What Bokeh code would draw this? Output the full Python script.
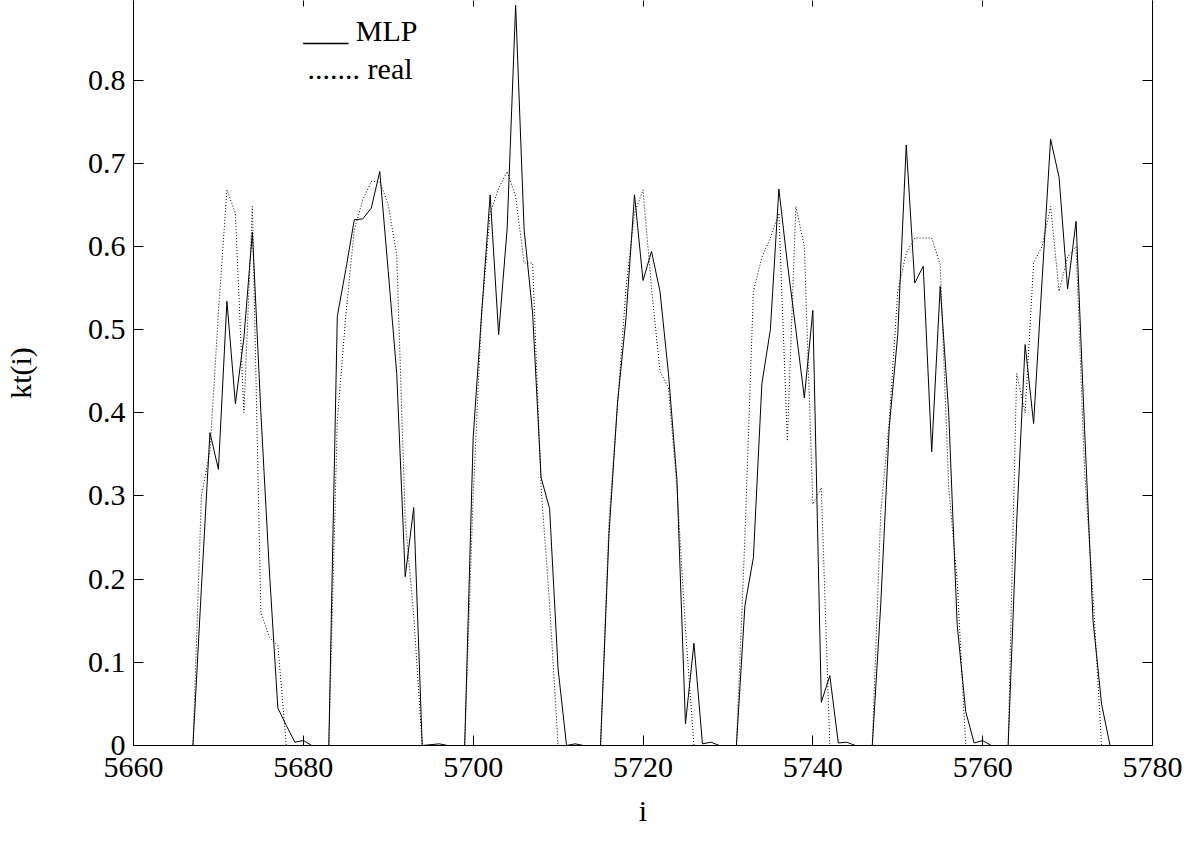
from bokeh.plotting import figure
from bokeh.models import Range1d, LinearAxis, FixedTicker, Label
from bokeh.embed import file_html
from bokeh.resources import INLINE

# ---------------- data ----------------
idx = list(range(5665, 5776))

mlp = [
    0, 0, 0, 0.19, 0.376, 0.332, 0.534, 0.411, 0.49, 0.617,          # 5665-5674
    0.40, 0.21, 0.045, 0.024, 0.004, 0.006, 0, 0, 0, 0.516,          # 5675-5684
    0.572, 0.632, 0.633, 0.646, 0.690, 0.57, 0.447, 0.203, 0.286, 0, # 5685-5694
    0.001, 0.002, 0, 0, 0, 0.37, 0.52, 0.662, 0.494, 0.621,          # 5695-5704
    0.890, 0.62, 0.52, 0.322, 0.285, 0.092, 0, 0.002, 0, 0,          # 5705-5714
    0, 0.255, 0.412, 0.514, 0.662, 0.559, 0.594, 0.546, 0.447, 0.319,  # 5715-5724
    0.026, 0.123, 0.002, 0.004, 0, 0, 0, 0.168, 0.226, 0.435,        # 5725-5734
    0.50, 0.669, 0.58, 0.50, 0.418, 0.523, 0.052, 0.084, 0.003, 0.004,  # 5735-5744
    0, 0, 0, 0.17, 0.383, 0.494, 0.722, 0.556, 0.576, 0.353,         # 5745-5754
    0.552, 0.40, 0.145, 0.041, 0.003, 0.006, 0, 0, 0, 0.267,         # 5755-5764
    0.482, 0.387, 0.56, 0.729, 0.683, 0.549, 0.630, 0.38, 0.15, 0.05,  # 5765-5774
    0,                                                                 # 5775
]

real = [
    0, 0, 0, 0.30, 0.354, 0.52, 0.668, 0.64, 0.40, 0.648,            # 5665-5674
    0.16, 0.13, 0.12, 0, 0, 0, 0, 0, 0, 0.39,                        # 5675-5684
    0.517, 0.62, 0.656, 0.678, 0.678, 0.65, 0.59, 0.27, 0.156, 0,    # 5685-5694
    0, 0, 0, 0, 0, 0.30, 0.52, 0.64, 0.67, 0.69,                     # 5695-5704
    0.66, 0.58, 0.58, 0.31, 0.17, 0, 0, 0, 0, 0,                     # 5705-5714
    0, 0.27, 0.41, 0.55, 0.64, 0.668, 0.55, 0.45, 0.43, 0.31,        # 5715-5724
    0.14, 0, 0, 0, 0, 0, 0, 0.25, 0.546, 0.587,                      # 5725-5734
    0.61, 0.64, 0.366, 0.648, 0.60, 0.29, 0.31, 0, 0, 0,             # 5735-5744
    0, 0, 0, 0.28, 0.39, 0.546, 0.592, 0.61, 0.61, 0.61,             # 5745-5754
    0.578, 0.31, 0.197, 0, 0, 0, 0, 0, 0, 0.447,                     # 5755-5764
    0.40, 0.58, 0.60, 0.648, 0.546, 0.587, 0.60, 0.33, 0.18, 0,      # 5765-5774
    0,                                                                 # 5775
]

xticks = [5660, 5680, 5700, 5720, 5740, 5760, 5780]
xtick_labels = ["5660", "5680", "5700", "5720", "5740", "5760", "5780"]
yticks = [0, 0.1, 0.2, 0.3, 0.4, 0.5, 0.6, 0.7, 0.8, 0.9]
ytick_labels = ["0", "0.1", "0.2", "0.3", "0.4", "0.5", "0.6", "0.7", "0.8", "0.9"]
legend_texts = ["___ MLP", "....... real"]

FONT = "Liberation Serif"
FS = "30px"

p = figure(width=1182, height=829, output_backend="svg", toolbar_location=None,
           x_range=Range1d(5660, 5780), y_range=Range1d(0, 0.8956),
           x_axis_location=None, y_axis_location=None,
           min_border_left=131, min_border_right=30, min_border_top=0,
           min_border_bottom=83)
p.outline_line_color = None
p.xgrid.visible = False
p.ygrid.visible = False
p.background_fill_color = "white"
p.border_fill_color = "white"

def style_axis(ax, ticks, labels, show_labels, tick_in):
    ax.ticker = FixedTicker(ticks=ticks)
    ax.major_tick_in = tick_in
    ax.major_tick_out = 0
    ax.minor_tick_line_color = None
    ax.major_tick_line_color = "black"
    ax.axis_line_color = "black"
    if show_labels:
        ax.major_label_overrides = {t: l for t, l in zip(ticks, labels)}
        ax.major_label_text_font = FONT
        ax.major_label_text_color = "black"
        ax.major_label_text_font_size = FS
    else:
        ax.major_label_text_color = None
        ax.major_label_standoff = 0

bottom = LinearAxis(axis_label="i")
style_axis(bottom, xticks, xtick_labels, True, 10)
bottom.major_label_standoff = 12
bottom.axis_label_text_font = FONT
bottom.axis_label_text_font_size = FS
bottom.axis_label_text_font_style = "normal"
bottom.axis_label_text_color = "black"
bottom.axis_label_standoff = 14
p.add_layout(bottom, "below")

left = LinearAxis(axis_label="kt(i)")
style_axis(left, yticks, ytick_labels, True, 10)
left.major_label_standoff = 8
left.axis_label_text_font = FONT
left.axis_label_text_font_size = FS
left.axis_label_text_font_style = "normal"
left.axis_label_text_color = "black"
left.axis_label_standoff = 48
p.add_layout(left, "left")

right = LinearAxis()
style_axis(right, yticks, ytick_labels, False, 10)
p.add_layout(right, "right")

top = LinearAxis()
style_axis(top, xticks, xtick_labels, False, 6)
top.axis_line_color = None
p.add_layout(top, "above")

p.line(idx, mlp, line_color="black", line_width=1)
p.line(idx, real, line_color="black", line_width=1, line_dash="1 2")

p.add_layout(Label(x=5680.0, y=0.859, text=legend_texts[0], text_font=FONT,
                   text_font_size=FS, text_color="black", text_baseline="alphabetic"))
p.add_layout(Label(x=5680.5, y=0.8135, text=legend_texts[1], text_font=FONT,
                   text_font_size=FS, text_color="black", text_baseline="alphabetic"))

open("out.html", "w").write(file_html(p, INLINE))
